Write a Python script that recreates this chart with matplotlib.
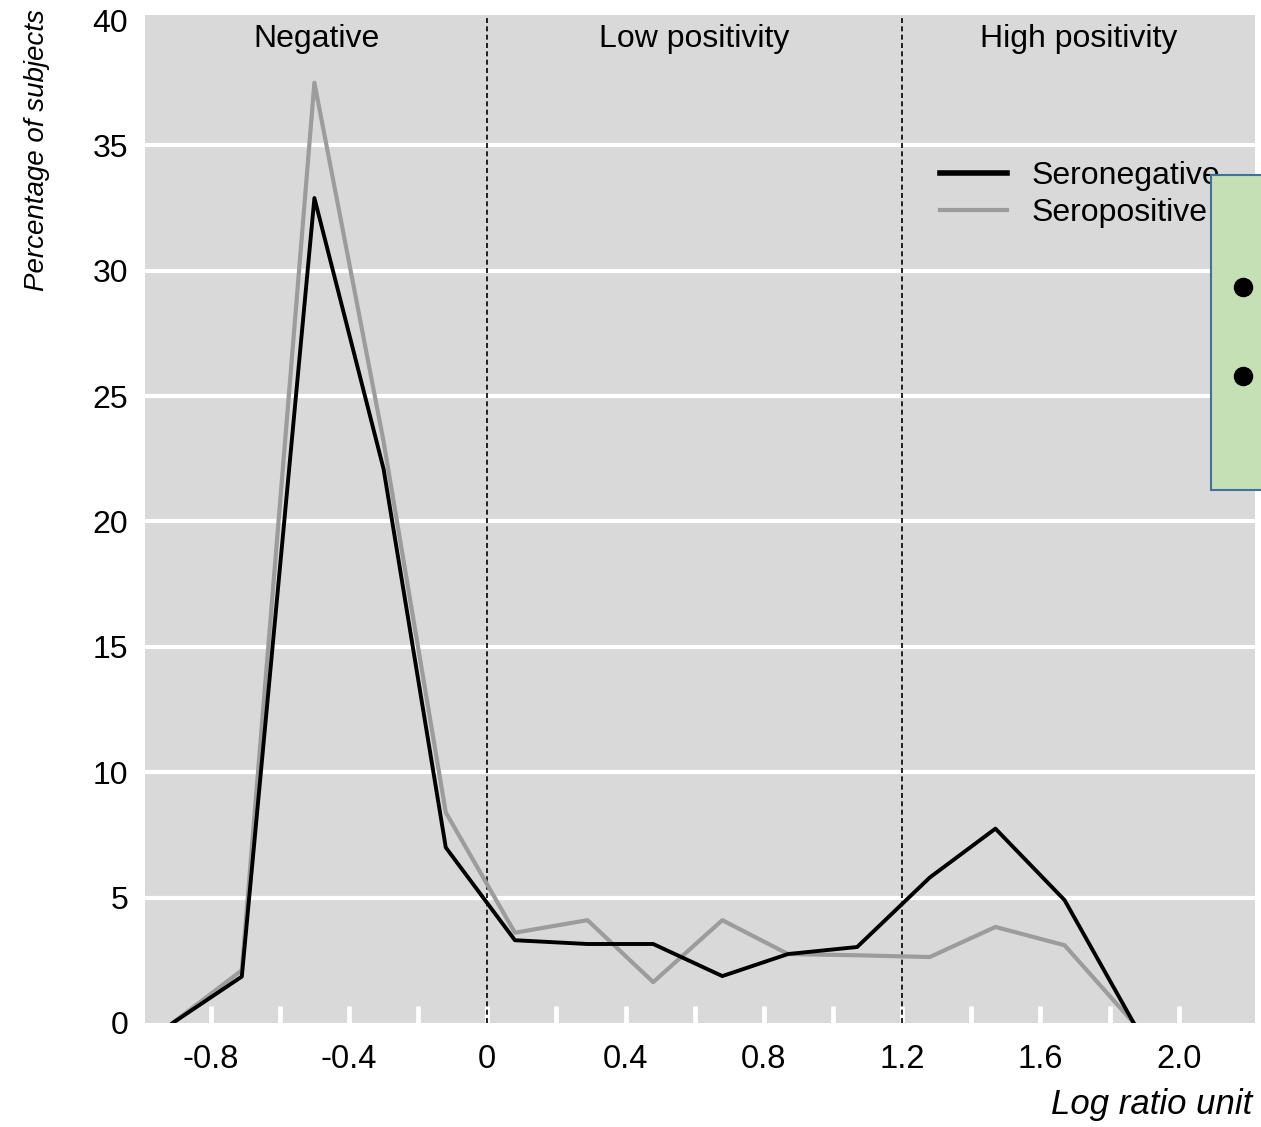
import matplotlib.pyplot as plt
from matplotlib.patches import Rectangle
from matplotlib.lines import Line2D
import matplotlib.transforms as mtransforms

# values
log_ratio = [-0.91, -0.71, -0.50, -0.30, -0.12, 0.08, 0.29, 0.48,
             0.68, 0.87, 1.07, 1.28, 1.47, 1.67, 1.87]
seronegative = [0, 1.85, 32.9, 22.1, 7.0, 3.3, 3.15, 3.15,
                1.87, 2.75, 3.03, 5.8, 7.75, 4.9, 0]
seropositive = [0, 2.1, 37.5, 23.2, 8.4, 3.6, 4.1, 1.63,
                4.1, 2.75, 2.7, 2.63, 3.83, 3.1, 0]

cutoffs = [0, 1.2]
zones = ['Negative', 'Low positivity', 'High positivity']
zone_centres = [-0.495, 0.6, 1.71]

xticks = [-0.8, -0.4, 0, 0.4, 0.8, 1.2, 1.6, 2.0]
xtick_labels = ['-0.8', '-0.4', '0', '0.4', '0.8', '1.2', '1.6', '2.0']
minor_xticks = [-0.6, -0.2, 0.2, 0.6, 1.0, 1.4, 1.8]
yticks = [0, 5, 10, 15, 20, 25, 30, 35, 40]

plt.rcParams['font.family'] = ['Liberation Sans', 'DejaVu Sans']

fig = plt.figure(figsize=(12.61, 11.27), dpi=100)
ax = fig.add_axes([0.115, 0.0923, 0.88, 0.8944])
ax.set_facecolor('#d9d9d9')

for s in ax.spines.values():
    s.set_visible(False)

ax.set_xlim(-0.99, 2.22)
ax.set_ylim(0, 40.2)

ax.set_yticks(yticks)
ax.set_yticklabels([str(v) for v in yticks], fontsize=23)
ax.tick_params(axis='y', length=0, pad=12)
for y in yticks[1:-1]:
    ax.axhline(y, color='white', lw=3, zorder=1)

ax.set_xticks(xticks)
ax.set_xticklabels(xtick_labels, fontsize=23.5)
ax.set_xticks(minor_xticks, minor=True)
ax.tick_params(axis='x', which='both', direction='in', length=12,
               width=3.4, color='white', pad=15)

for c in cutoffs:
    ax.axvline(c, color='black', lw=1.2, ls=(0, (3, 2)), zorder=2)

ax.plot(log_ratio, seropositive, color='#9c9c9c', lw=3, zorder=3)
ax.plot(log_ratio, seronegative, color='black', lw=2.8, zorder=4)

trans = mtransforms.blended_transform_factory(ax.transData, ax.transAxes)
for name, xc in zip(zones, zone_centres):
    ax.text(xc, 0.976, name, transform=trans, ha='center', va='center',
            fontsize=23)

handles = [Line2D([], [], color='black', lw=4),
           Line2D([], [], color='#9c9c9c', lw=3)]
leg = ax.legend(handles, ['Seronegative', 'Seropositive'], loc='upper left',
                bbox_to_anchor=(0.705, 0.868), frameon=False, fontsize=23,
                handlelength=2.1, handletextpad=0.75, labelspacing=0.22,
                borderaxespad=0)
leg.set_zorder(5)

ax.set_ylabel('Percentage of subjects', fontsize=20, style='italic',
              loc='top')
ax.yaxis.set_label_coords(-0.086, 1.006)
ax.set_xlabel('Log ratio unit', fontsize=25, style='italic', loc='right')
ax.xaxis.set_label_coords(0.9975, -0.065)

# green note box pasted over the right edge
fig.patches.append(Rectangle((1211 / 1261, 1 - 490 / 1127), 80 / 1261,
                             315 / 1127, transform=fig.transFigure,
                             facecolor='#c5e0b4', edgecolor='#41719c',
                             lw=1.5, zorder=10))
for yb in [287, 376]:
    fig.add_artist(Line2D([1243 / 1261], [1 - yb / 1127], marker='o',
                          markersize=13, color='black', ls='none',
                          transform=fig.transFigure, zorder=11))

fig.savefig('out.png', dpi=100)
